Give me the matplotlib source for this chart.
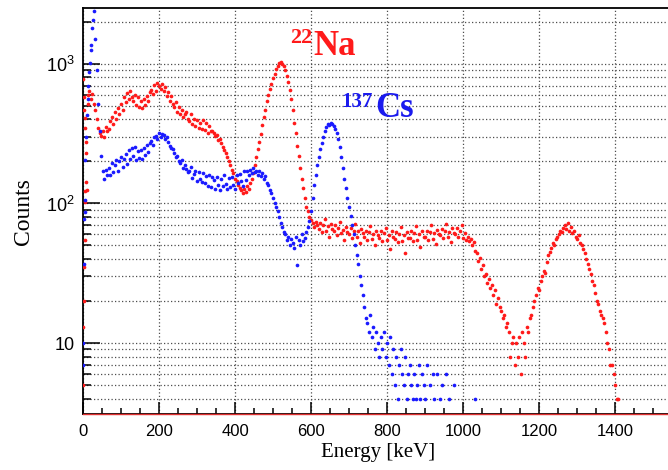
import numpy as np
import matplotlib.pyplot as plt
from matplotlib.ticker import FixedLocator, MultipleLocator, NullFormatter

plt.rcParams['font.family'] = ['Liberation Sans', 'DejaVu Sans']
plt.rcParams['mathtext.fontset'] = 'custom'
plt.rcParams['mathtext.rm'] = 'Liberation Sans'

bin_kev = 4

# 22Na spectrum, regular bins from 20 keV
na_start = 20
na_counts = [
    560, 610, 520, 470, 400, 350, 320, 305, 330, 300,
    355, 330, 340, 390, 420, 370, 450, 405, 480, 440,
    520, 470, 575, 530, 620, 560, 640, 575, 545, 600,
    510, 575, 490, 540, 480, 560, 510, 590, 545, 625,
    650, 610, 705, 645, 735, 690, 665, 720, 635, 680,
    590, 630, 545, 590, 515, 490, 535, 455, 495, 440,
    470, 420, 435, 455, 400, 390, 440, 370, 405, 360,
    395, 350, 380, 340, 395, 335, 375, 320, 360, 330,
    330, 320, 305, 310, 285, 290, 270, 255, 240, 230,
    215, 200, 190, 175, 165, 150, 145, 135, 130, 125,
    118, 128, 120, 133, 126, 140, 150, 165, 190, 215,
    245, 275, 315, 365, 420, 470, 540, 600, 660, 720,
    790, 850, 920, 970, 1010, 1040, 1000, 960, 900, 820,
    740, 650, 560, 470, 380, 320, 260, 220, 180, 150,
    130, 110, 95, 88, 80, 76, 72, 68, 74, 70,
    66, 73, 62, 70, 78, 64, 69, 58, 71, 66,
    63, 70, 59, 67, 74, 61, 65, 55, 68, 62,
    60, 67, 57, 64, 71, 58, 63, 52, 66, 61,
    58, 64, 55, 62, 69, 56, 60, 50, 64, 59,
    57, 63, 54, 61, 67, 55, 59, 47, 63, 58,
    56, 62, 53, 60, 68, 54, 59, 44, 62, 57,
    57, 63, 54, 61, 69, 55, 60, 49, 63, 58,
    58, 64, 55, 62, 70, 56, 61, 51, 65, 60,
    59, 66, 57, 63, 71, 58, 62, 53, 67, 61,
    60, 67, 58, 64, 70, 57, 61, 55, 58, 54,
    56, 50, 53, 46, 44, 39, 41, 34, 36, 30,
    31, 27, 29, 25, 26, 22, 24, 19, 21, 18,
    17, 15, 16, 13, 14, 12, 8, 10, 11, 7,
    10, 8, 11, 6, 12, 10, 8, 13, 12, 15,
    16, 18, 20, 22, 25, 24, 28, 30, 33, 32,
    38, 43, 45, 48, 52, 50, 56, 58, 60, 64,
    62, 67, 70, 66, 72, 64, 68, 61, 63, 58,
    56, 59, 52, 50, 47, 44, 40, 37, 34, 31,
    28, 26, 23, 20, 19, 17, 16, 15, 14, 12,
    10, 9, 7, 7, 6, 5, 4, 4,
]

# 137Cs spectrum, regular bins from 32 keV (0 = empty bin)
cs_start = 32
cs_counts = [
    1500, 900, 520, 330, 220, 170, 150, 175, 160, 180,
    160, 195, 168, 190, 205, 172, 200, 215, 182, 210,
    228, 192, 240, 208, 248, 218, 252, 205, 238, 212,
    242, 208, 250, 222, 262, 235, 272, 280, 262, 300,
    305, 290, 320, 300, 315, 310, 290, 300, 275, 260,
    250, 245, 230, 215, 220, 200, 195, 205, 180, 190,
    178, 168, 172, 182, 152, 164, 170, 145, 168, 150,
    142, 165, 140, 158, 134, 160, 132, 154, 148, 128,
    155, 136, 125, 150, 134, 160, 138, 126, 152, 132,
    154, 136, 128, 160, 140, 164, 144, 134, 170, 148,
    170, 160, 175, 165, 180, 168, 172, 160, 170, 158,
    165, 150, 158, 140, 135, 125, 118, 110, 100, 95,
    88, 80, 72, 68, 62, 60, 55, 58, 50, 56,
    52, 48, 58, 36, 55, 50, 60, 54, 57, 62,
    68, 75, 88, 110, 135, 160, 190, 215, 245, 270,
    300, 330, 355, 372, 368, 375, 370, 360, 340, 320,
    290, 255, 215, 180, 150, 130, 110, 95, 82, 70,
    60, 50, 43, 37, 30, 26, 22, 18, 15, 14,
    12, 16, 11, 13, 9, 12, 10, 8, 11, 9,
    12, 8, 10, 7, 11, 6, 9, 5, 8, 4,
    7, 9, 6, 5, 8, 4, 6, 7, 5, 4,
    6, 4, 5, 7, 4, 6, 5, 4, 7, 0,
    5, 0, 6, 4, 0, 6, 0, 4, 5, 0,
    0, 6, 0, 4, 0, 0, 5, 0, 0, 0,
    0, 0, 0, 0, 0, 0, 0, 0, 0, 0,
    4, 0, 0,
]

# threshold noise below the first regular bin
na_low_e = [0, 1, 1, 2, 2, 3, 3, 4, 4, 5, 6, 6, 7, 8, 9, 10, 12, 14, 16]
na_low_c = [5, 13, 780, 20, 580, 35, 470, 55, 410, 102, 345, 123, 275, 230, 142, 125, 520, 600, 640]
cs_low_e = [0, 1, 2, 3, 4, 5, 6, 8, 10, 12, 14, 16, 18, 20, 22, 24, 26, 28, 30]
cs_low_c = [7, 10, 37, 77, 87, 106, 205, 300, 430, 560, 700, 880, 1015, 1250, 1370, 1800, 2050, 2400, 3000]

na_e = np.concatenate([na_low_e, na_start + bin_kev * np.arange(len(na_counts))])
na_c = np.concatenate([na_low_c, na_counts]).astype(float)
cs_e = np.concatenate([cs_low_e, cs_start + bin_kev * np.arange(len(cs_counts))])
cs_c = np.concatenate([cs_low_c, cs_counts]).astype(float)
na_ok = na_c > 0
cs_ok = cs_c > 0

W, H = 668, 470
fig = plt.figure(figsize=(W / 100, H / 100), dpi=100)
ax = fig.add_axes([83 / W, 56 / H, 586 / W, 406 / H])

ax.scatter(na_e[na_ok], na_c[na_ok], s=7, color='#ff1a1a', linewidths=0, zorder=3)
ax.scatter(cs_e[cs_ok], cs_c[cs_ok], s=7, color='#1a1aff', linewidths=0, zorder=3)

ax.set_yscale('log')
ax.set_xlim(0, 1542)
ax.set_ylim(3.1, 2518)

ax.xaxis.set_major_locator(FixedLocator(np.arange(0, 1401, 200)))
ax.xaxis.set_minor_locator(MultipleLocator(50))
ax.yaxis.set_major_locator(FixedLocator([10, 100, 1000]))
minor_y = [m * 10.0 ** d for d in range(0, 4) for m in range(2, 10)]
ax.yaxis.set_minor_locator(FixedLocator(minor_y))
ax.yaxis.set_minor_formatter(NullFormatter())
ax.set_yticklabels(['10', r'$\mathregular{10^{2}}$', r'$\mathregular{10^{3}}$'])

ax.tick_params(axis='both', which='both', direction='in', labelsize=12,
               top=False, right=False, width=1.1)
ax.tick_params(axis='y', which='major', length=12.5, pad=6, labelsize=13)
ax.tick_params(axis='y', which='minor', length=6)
ax.tick_params(axis='x', which='major', length=9, pad=7)
ax.tick_params(axis='x', which='minor', length=4.5)

grid_kw = dict(color='#4d4d4d', linewidth=0.9, linestyle=(0, (1, 1.8)))
ax.grid(True, axis='x', which='major', **grid_kw)
ax.grid(True, axis='y', which='both', **grid_kw)
ax.set_axisbelow(True)

for sp in ax.spines.values():
    sp.set_linewidth(1.3)
ax.axhline(3.1, color='#e03030', linewidth=1.0, zorder=4, clip_on=False)

serif = ['Liberation Serif', 'DejaVu Serif']
fig.text(378 / W, 1 - 452 / H, 'Energy [keV]', family=serif, size=15,
         ha='center', va='center')
fig.text(24 / W, 1 - 212 / H, 'Counts', family=serif, size=17,
         rotation=90, ha='center', va='center')

# isotope labels
fig.text(312 / W, 1 - 43 / H, '22', family=serif, weight='bold', size=16,
         color='#ff1a1a', ha='right', va='baseline')
fig.text(313 / W, 1 - 55 / H, 'Na', family=serif, weight='bold', size=25,
         color='#ff1a1a', ha='left', va='baseline')
fig.text(373 / W, 1 - 107 / H, '137', family=serif, weight='bold', size=15,
         color='#1a1aee', ha='right', va='baseline')
fig.text(375 / W, 1 - 117 / H, 'Cs', family=serif, weight='bold', size=25,
         color='#1a1aee', ha='left', va='baseline')

fig.savefig('out.png', dpi=100)
